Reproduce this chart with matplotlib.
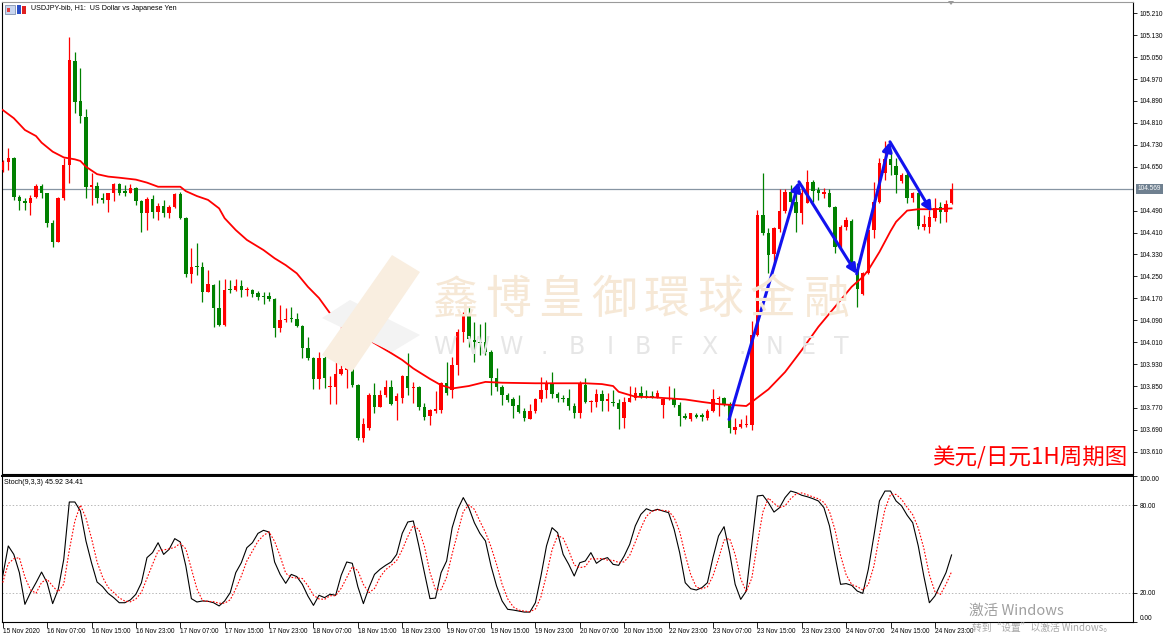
import numpy as np
import matplotlib
matplotlib.use('Agg')
import matplotlib.pyplot as plt
from matplotlib.patches import Polygon, Rectangle
from matplotlib.transforms import blended_transform_factory

plt.rcParams['font.family'] = ['Liberation Sans', 'DejaVu Sans']

# ---------------- data ----------------
opens = [104.638, 104.668, 104.681, 104.538, 104.526, 104.516, 104.538, 104.580, 104.553, 104.443,
         104.376, 104.535, 104.656, 105.036, 104.891, 104.833, 104.577, 104.580, 104.537, 104.529,
         104.553, 104.587, 104.560, 104.555, 104.571, 104.525, 104.480, 104.531, 104.486, 104.507,
         104.482, 104.504, 104.549, 104.462, 104.258, 104.287, 104.283, 104.194, 104.218, 104.136,
         104.072, 104.204, 104.200, 104.215, 104.200, 104.200, 104.188, 104.178, 104.178, 104.166,
         104.060, 104.091, 104.097, 104.093, 104.070, 103.987, 103.951, 103.874, 103.951, 103.845,
         103.847, 103.894, 103.908, 103.954, 103.853, 103.659, 103.695, 103.817, 103.774, 103.817,
         103.845, 103.796, 103.808, 103.886, 103.842, 103.847, 103.772, 103.740, 103.760, 103.762,
         103.862, 103.835, 103.926, 104.048, 104.109, 104.018, 104.012, 104.012, 103.975, 103.881,
         103.845, 103.817, 103.801, 103.780, 103.758, 103.729, 103.760, 103.802, 103.835, 103.859,
         103.821, 103.806, 103.805, 103.777, 103.752, 103.853, 103.791, 103.793, 103.821, 103.795,
         103.793, 103.789, 103.732, 103.793, 103.805, 103.825, 103.813, 103.812, 103.811, 103.780,
         103.801, 103.808, 103.780, 103.740, 103.728, 103.746, 103.744, 103.735, 103.759, 103.801,
         103.805, 103.784, 103.689, 103.699, 103.707, 103.707, 104.036, 104.474, 104.407, 104.332,
         104.422, 104.489, 104.557, 104.523, 104.480, 104.519, 104.596, 104.565, 104.551, 104.553,
         104.504, 104.356, 104.431, 104.453, 104.276, 104.186, 104.261, 104.419, 104.523, 104.626,
         104.677, 104.653, 104.599, 104.620, 104.535, 104.555, 104.431, 104.429, 104.462, 104.502,
         104.486, 104.517]
highs = [104.675, 104.717, 104.687, 104.547, 104.535, 104.547, 104.587, 104.587, 104.555, 104.456,
         104.541, 104.681, 105.125, 105.070, 105.009, 104.859, 104.626, 104.595, 104.553, 104.555,
         104.592, 104.592, 104.583, 104.587, 104.577, 104.529, 104.541, 104.547, 104.516, 104.529,
         104.510, 104.553, 104.559, 104.468, 104.352, 104.370, 104.304, 104.273, 104.222, 104.237,
         104.239, 104.237, 104.239, 104.237, 104.210, 104.205, 104.197, 104.194, 104.194, 104.170,
         104.145, 104.133, 104.139, 104.115, 104.072, 104.030, 103.957, 103.975, 103.959, 103.886,
         103.951, 104.085, 104.000, 103.957, 103.859, 103.735, 103.823, 103.862, 103.835, 103.872,
         103.872, 103.823, 103.890, 103.971, 103.866, 103.850, 103.789, 103.765, 103.833, 103.866,
         103.939, 103.957, 104.057, 104.120, 104.137, 104.085, 104.078, 104.085, 103.981, 103.914,
         103.853, 103.825, 103.811, 103.817, 103.768, 103.786, 103.808, 103.884, 103.872, 103.902,
         103.829, 103.817, 103.838, 103.789, 103.869, 103.878, 103.799, 103.838, 103.835, 103.823,
         103.835, 103.801, 103.811, 103.850, 103.847, 103.850, 103.835, 103.833, 103.835, 103.808,
         103.850, 103.841, 103.793, 103.752, 103.752, 103.752, 103.752, 103.765, 103.838, 103.813,
         103.811, 103.793, 103.732, 103.728, 103.744, 104.088, 104.492, 104.626, 104.425, 104.431,
         104.568, 104.568, 104.583, 104.559, 104.583, 104.638, 104.602, 104.575, 104.571, 104.568,
         104.507, 104.437, 104.465, 104.458, 104.298, 104.267, 104.431, 104.596, 104.681, 104.745,
         104.711, 104.681, 104.628, 104.638, 104.559, 104.559, 104.474, 104.492, 104.535, 104.523,
         104.529, 104.589]
lows = [104.632, 104.638, 104.529, 104.492, 104.492, 104.474, 104.535, 104.535, 104.431, 104.358,
        104.374, 104.529, 104.589, 104.845, 104.808, 104.535, 104.510, 104.516, 104.516, 104.486,
        104.526, 104.547, 104.544, 104.553, 104.510, 104.413, 104.419, 104.462, 104.456, 104.468,
        104.462, 104.498, 104.458, 104.249, 104.227, 104.255, 104.158, 104.192, 104.064, 104.070,
        104.070, 104.188, 104.198, 104.176, 104.178, 104.176, 104.164, 104.151, 104.161, 104.030,
        104.048, 104.085, 104.085, 104.066, 103.951, 103.945, 103.838, 103.838, 103.841, 103.786,
        103.784, 103.890, 103.841, 103.847, 103.653, 103.647, 103.689, 103.750, 103.772, 103.811,
        103.780, 103.726, 103.789, 103.817, 103.789, 103.762, 103.726, 103.707, 103.750, 103.750,
        103.817, 103.805, 103.890, 104.011, 103.993, 103.939, 103.963, 103.963, 103.817, 103.833,
        103.780, 103.793, 103.735, 103.750, 103.723, 103.728, 103.750, 103.793, 103.808, 103.808,
        103.793, 103.793, 103.762, 103.735, 103.735, 103.789, 103.756, 103.774, 103.760, 103.760,
        103.777, 103.692, 103.695, 103.793, 103.799, 103.808, 103.805, 103.805, 103.808, 103.735,
        103.799, 103.774, 103.704, 103.728, 103.723, 103.735, 103.723, 103.726, 103.756, 103.740,
        103.777, 103.679, 103.675, 103.695, 103.701, 103.689, 104.034, 104.401, 104.263, 104.298,
        104.413, 104.482, 104.492, 104.413, 104.441, 104.517, 104.523, 104.529, 104.535, 104.502,
        104.336, 104.352, 104.419, 104.273, 104.139, 104.182, 104.259, 104.389, 104.519, 104.602,
        104.620, 104.555, 104.589, 104.517, 104.523, 104.422, 104.419, 104.407, 104.453, 104.444,
        104.450, 104.514]
closes = [104.668, 104.681, 104.541, 104.526, 104.516, 104.537, 104.580, 104.553, 104.443, 104.376,
          104.535, 104.656, 105.040, 104.887, 104.835, 104.577, 104.582, 104.535, 104.529, 104.553,
          104.587, 104.555, 104.555, 104.571, 104.525, 104.480, 104.531, 104.486, 104.508, 104.482,
          104.504, 104.549, 104.462, 104.258, 104.285, 104.283, 104.194, 104.222, 104.136, 104.072,
          104.200, 104.201, 104.215, 104.200, 104.204, 104.186, 104.176, 104.176, 104.166, 104.060,
          104.091, 104.096, 104.093, 104.070, 103.987, 103.951, 103.874, 103.951, 103.878, 103.847,
          103.894, 103.911, 103.954, 103.853, 103.659, 103.711, 103.817, 103.774, 103.817, 103.845,
          103.784, 103.813, 103.886, 103.841, 103.847, 103.772, 103.738, 103.762, 103.765, 103.862,
          103.823, 103.926, 104.048, 104.109, 104.020, 104.012, 104.007, 103.975, 103.881, 103.845,
          103.817, 103.799, 103.777, 103.756, 103.735, 103.760, 103.802, 103.835, 103.859, 103.821,
          103.805, 103.802, 103.777, 103.752, 103.862, 103.793, 103.795, 103.821, 103.795, 103.801,
          103.789, 103.765, 103.793, 103.805, 103.825, 103.813, 103.811, 103.810, 103.823, 103.801,
          103.808, 103.780, 103.740, 103.735, 103.750, 103.738, 103.738, 103.759, 103.801, 103.805,
          103.784, 103.695, 103.701, 103.710, 103.711, 104.036, 104.474, 104.407, 104.328, 104.425,
          104.489, 104.557, 104.523, 104.483, 104.553, 104.596, 104.563, 104.553, 104.559, 104.504,
          104.356, 104.431, 104.456, 104.276, 104.203, 104.263, 104.419, 104.523, 104.662, 104.677,
          104.656, 104.620, 104.620, 104.535, 104.555, 104.434, 104.440, 104.465, 104.498, 104.486,
          104.514, 104.568]

# moving average (red line), read at these bar indices
ma_idx = [0, 2, 4, 6, 7, 9, 11, 13, 14, 15, 17, 19, 21, 24, 26, 28, 32, 33, 35, 37, 39, 40, 42, 44,
          47, 49, 51, 53, 55, 57, 59, 61, 63, 65, 67, 70, 72, 74, 77, 79, 81, 84, 87, 90, 96, 105, 108,
          110, 111, 114, 117, 120, 123, 126, 129, 132, 134, 135, 138, 141, 144, 147, 150, 153, 155,
          156, 158, 160, 161, 163, 165, 168, 171]
ma_val = [104.857, 104.827, 104.784, 104.762, 104.738, 104.705, 104.684, 104.677, 104.671, 104.650,
          104.623, 104.614, 104.610, 104.603, 104.592, 104.577, 104.577, 104.561, 104.543, 104.529,
          104.498, 104.462, 104.419, 104.383, 104.346, 104.316, 104.291, 104.261, 104.212, 104.171,
          104.115, 104.091, 104.060, 104.030, 104.006, 103.970, 103.945, 103.914, 103.876, 103.853,
          103.841, 103.850, 103.865, 103.862, 103.860, 103.860, 103.857, 103.850, 103.829, 103.811,
          103.809, 103.805, 103.801, 103.792, 103.784, 103.780, 103.777, 103.792, 103.838, 103.901,
          103.981, 104.066, 104.139, 104.212, 104.248, 104.273, 104.339, 104.415, 104.449, 104.490,
          104.495, 104.495, 104.498]

# blue zig-zag arrows (bar index, price)
zz_idx = [130.9, 143.5, 153.9, 159.9, 167.4]
zz_val = [103.728, 104.595, 104.259, 104.741, 104.486]

stoch_k = [31.5, 52.1, 46.3, 33.8, 12.1, 20.1, 26.9, 34.2, 26.9, 12.6,
           22.4, 42.9, 82.2, 82.2, 76.0, 55.5, 40.6, 27.4, 24.2, 19.6,
           16.7, 13.2, 13.2, 15.1, 19.0, 26.9, 44.1, 47.5, 54.3, 46.3,
           49.8, 57.1, 54.8, 38.4, 16.0, 13.7, 14.4, 14.2, 13.2, 11.0,
           14.4, 20.1, 33.8, 40.6, 50.9, 54.3, 60.7, 62.8, 61.6, 41.1,
           32.6, 26.5, 32.6, 31.1, 25.8, 17.8, 11.4, 18.3, 16.7, 19.0,
           18.3, 32.0, 41.1, 40.2, 24.2, 12.6, 23.5, 32.6, 36.1, 38.8,
           41.1, 46.3, 60.7, 68.5, 69.2, 52.1, 33.8, 16.0, 16.4, 33.8,
           41.8, 64.6, 77.2, 85.2, 78.3, 68.0, 60.7, 55.5, 38.4, 24.7,
           14.4, 8.7, 8.2, 7.5, 6.8, 6.8, 13.2, 31.5, 52.1, 64.6,
           61.2, 46.3, 39.5, 31.5, 40.6, 41.8, 47.5, 40.2, 42.9, 44.1,
           39.5, 38.8, 45.2, 53.2, 65.8, 73.7, 77.6, 76.0, 77.2, 76.0,
           74.9, 63.5, 47.5, 26.9, 22.8, 21.9, 23.5, 26.9, 44.1, 58.9,
           65.3, 47.5, 25.8, 15.5, 21.2, 53.2, 86.3, 86.8, 81.7, 75.3,
           78.3, 85.2, 89.7, 88.6, 86.8, 85.8, 84.5, 82.9, 78.3, 65.8,
           45.2, 25.8, 26.3, 25.1, 21.2, 19.6, 36.1, 58.9, 82.9, 89.7,
           89.7, 82.9, 79.5, 73.1, 68.0, 52.1, 31.5, 13.2, 17.8, 25.8,
           33.8, 45.92]
stoch_d = [27.0, 40.0, 43.3, 44.1, 30.7, 22.0, 19.7, 27.1, 29.3, 24.6,
           20.6, 26.0, 49.2, 69.1, 80.1, 71.2, 57.4, 41.2, 30.7, 23.7,
           20.2, 16.5, 14.4, 13.8, 15.8, 20.3, 30.0, 39.5, 48.6, 49.4,
           50.1, 51.1, 53.9, 50.1, 36.4, 22.7, 14.7, 14.1, 13.9, 12.8,
           12.9, 15.2, 22.8, 31.5, 41.8, 48.6, 55.3, 59.3, 61.7, 55.2,
           45.1, 33.4, 30.6, 30.1, 29.8, 24.9, 18.3, 15.8, 15.5, 18.0,
           18.0, 23.1, 30.5, 37.8, 35.2, 25.7, 20.1, 22.9, 30.7, 35.8,
           38.7, 42.1, 49.4, 58.5, 66.1, 63.3, 51.7, 34.0, 22.1, 22.1,
           30.7, 46.7, 61.2, 75.7, 80.2, 77.2, 69.0, 61.4, 51.5, 39.5,
           25.8, 15.9, 10.4, 8.1, 7.5, 7.0, 8.9, 17.2, 32.3, 49.4,
           59.3, 57.4, 49.0, 39.1, 37.2, 38.0, 43.3, 43.2, 43.5, 42.4,
           42.2, 40.8, 41.2, 45.7, 54.7, 64.2, 72.4, 75.8, 76.9, 76.4,
           76.0, 71.5, 62.0, 46.0, 32.4, 23.9, 22.7, 24.1, 31.5, 43.3,
           56.1, 57.2, 46.2, 29.6, 20.8, 30.0, 53.6, 75.4, 84.9, 81.3,
           78.4, 79.6, 84.4, 87.8, 88.4, 87.1, 85.7, 84.4, 81.9, 75.7,
           63.1, 45.6, 32.4, 25.7, 24.2, 22.0, 25.6, 38.2, 59.3, 77.2,
           87.4, 87.4, 84.0, 78.5, 73.5, 64.4, 50.5, 32.3, 20.8, 18.9,
           25.8, 34.41]

price_ticks = [103.610, 103.690, 103.770, 103.850, 103.930, 104.010, 104.090, 104.170, 104.250,
               104.330, 104.410, 104.490, 104.650, 104.730, 104.810, 104.890, 104.970, 105.050,
               105.130, 105.210]
last_price = 104.569
time_labels = ['15 Nov 2020', '16 Nov 07:00', '16 Nov 15:00', '16 Nov 23:00', '17 Nov 07:00',
               '17 Nov 15:00', '17 Nov 23:00', '18 Nov 07:00', '18 Nov 15:00', '18 Nov 23:00',
               '19 Nov 07:00', '19 Nov 15:00', '19 Nov 23:00', '20 Nov 07:00', '20 Nov 15:00',
               '22 Nov 23:00', '23 Nov 07:00', '23 Nov 15:00', '23 Nov 23:00', '24 Nov 07:00',
               '24 Nov 15:00', '24 Nov 23:00']
stoch_levels = [20, 80]

# ---------------- figure ----------------
W, H = 1170, 634
fig = plt.figure(figsize=(W / 100, H / 100), dpi=100)
fig.patch.set_facecolor('white')


def fx(px):
    return px / W


def fy(py):
    return 1 - py / H


L, R = 2, 1133
m_top, m_bot = 2, 474
s_top, s_bot = 476, 622
ax = fig.add_axes([fx(L), fy(m_bot), (R - L) / W, (m_bot - m_top) / H])
ax2 = fig.add_axes([fx(L), fy(s_bot), (R - L) / W, (s_bot - s_top) / H], sharex=ax)

RED = '#ff0000'
GREEN = '#008000'
TICKFS = 4.7

o = np.array(opens); h = np.array(highs); l = np.array(lows); c = np.array(closes)
xi = np.arange(len(c))
cols = np.where(c >= o, RED, GREEN)

# watermark (behind everything)
wm_chars = '鑫博皇御環球金融'
for k, ch in enumerate(wm_chars):
    fig.text(fx(455 + 53 * k), fy(300), ch, fontsize=33, color='#f6e8d6',
             family=['Noto Sans CJK TC', 'Noto Sans CJK SC'], ha='center', va='center', zorder=0)
for k, ch in enumerate('WWW.BIBFX.NET'):
    fig.text(fx(445 + 33 * k), fy(347), ch, fontsize=17, color='#e6e6e6',
             family=['DejaVu Sans'], ha='center', va='center', zorder=0)
logo_beige = Polygon([[fx(392), fy(255)], [fx(420), fy(272)], [fx(352), fy(372)], [fx(322), fy(355)]],
                     closed=True, transform=fig.transFigure, facecolor='#f9eee0', edgecolor='none', zorder=0)
logo_gray = Polygon([[fx(322), fy(318)], [fx(350), fy(300)], [fx(420), fy(335)], [fx(392), fy(352)]],
                    closed=True, transform=fig.transFigure, facecolor='#f3f3f3', edgecolor='none', zorder=0)
fig.patches.extend([logo_gray, logo_beige])

for a in (ax, ax2):
    a.set_facecolor('none')

# candles
ax.vlines(xi, l, h, colors=cols, linewidth=0.9, zorder=3)
body_bot = np.minimum(o, c)
body_h = np.maximum(np.abs(c - o), 0.0035)
ax.bar(xi, body_h, bottom=body_bot, width=0.62, color=cols, linewidth=0, zorder=4)

# moving average
ax.plot(ma_idx, ma_val, color=RED, lw=1.3, zorder=5)

# current price line
ax.axhline(last_price, color='#8795a3', lw=0.9, zorder=2)
trans = blended_transform_factory(ax.transAxes, ax.transData)
ax.text(1.004, last_price, f'{last_price:.3f}', transform=trans, fontsize=TICKFS, color='white',
        va='center', ha='left', clip_on=False,
        bbox=dict(boxstyle='square,pad=0.25', facecolor='#6f8090', edgecolor='none'))

# zig-zag arrows
for k in range(len(zz_idx) - 1):
    ax.annotate('', xy=(zz_idx[k + 1], zz_val[k + 1]), xytext=(zz_idx[k], zz_val[k]),
                arrowprops=dict(arrowstyle='-|>,head_length=0.55,head_width=0.28', color='#1212ee',
                                lw=2.2, shrinkA=0, shrinkB=0), zorder=6)

ax.set_xlim(-0.13, 203.7)
ax.set_ylim(103.529, 105.251)
ax.yaxis.tick_right()
ax.set_yticks(price_ticks)
ax.set_yticklabels([f'{t:.3f}' for t in price_ticks])
ax.tick_params(axis='y', length=3, width=0.6, pad=1.5, labelsize=TICKFS, direction='out')
ax.tick_params(axis='x', bottom=False, labelbottom=False)
for s in ax.spines.values():
    s.set_linewidth(0.8)
    s.set_color('#000000')
ax.spines['top'].set_color('#9a9a9a')

# header
fig.text(fx(31), fy(9), 'USDJPY-bib, H1:  US Dollar vs Japanese Yen', fontsize=5.1, va='center', ha='left')
fig.patches.append(Rectangle((fx(5), fy(14)), 10 / W, 9 / H, transform=fig.transFigure,
                             facecolor='#c9d6ef', edgecolor='#7080a0', lw=0.5))
fig.patches.append(Rectangle((fx(7), fy(12)), 3 / W, 4 / H, transform=fig.transFigure,
                             facecolor='#e04040', edgecolor='none'))
fig.patches.append(Rectangle((fx(17), fy(14)), 4 / W, 9 / H, transform=fig.transFigure,
                             facecolor='#2a50c8', edgecolor='none'))
fig.patches.append(Rectangle((fx(22), fy(14)), 4 / W, 8 / H, transform=fig.transFigure,
                             facecolor='#e02020', edgecolor='none'))
# chart shift marker
fig.patches.append(Polygon([[fx(948), fy(1)], [fx(954), fy(1)], [fx(951), fy(5)]], closed=True,
                           transform=fig.transFigure, facecolor='#9a9a9a', edgecolor='none'))

# red label
fig.text(fx(932), fy(458), '美元/日元1H周期图', color='#ff0000', fontsize=16.2,
         family=['Noto Sans CJK SC', 'DejaVu Sans'], va='center', ha='left')

# ---------------- stochastic ----------------
ax2.plot(xi, stoch_k, color='#000000', lw=0.8, zorder=3)
ax2.plot(xi, stoch_d, color='#ff0000', lw=0.8, ls=(0, (1.5, 1.5)), zorder=3)
for lv in stoch_levels:
    ax2.axhline(lv, color='#b8b8b8', lw=0.7, ls=(0, (1.5, 2)), zorder=1)
ax2.set_ylim(0, 100)
ax2.yaxis.tick_right()
ax2.set_yticks([0, 20, 80, 100])
ax2.set_yticklabels(['0.00', '20.00', '80.00', '100.00'])
ax2.tick_params(axis='y', length=3, width=0.6, pad=1.5, labelsize=TICKFS, direction='out')
ylabs = ax2.get_yticklabels()
ylabs[0].set_va('bottom')
ylabs[-1].set_va('top')
ax2.set_xticks(np.arange(0, 8 * len(time_labels), 8))
ax2.set_xticklabels(time_labels)
ax2.tick_params(axis='x', length=4, width=0.6, pad=0.5, labelsize=TICKFS, direction='out')
for t in ax2.get_xticklabels():
    t.set_ha('left')
for s in ax2.spines.values():
    s.set_linewidth(0.8)
    s.set_color('#000000')
ax2.spines['top'].set_linewidth(1.4)
fig.text(fx(4), fy(482), 'Stoch(9,3,3) 45.92 34.41', fontsize=5.1, va='center', ha='left')

# windows activation overlay
fig.text(fx(969), fy(611), '激活 Windows', color='#a0a0a0', fontsize=10.5,
         family=['Noto Sans CJK SC', 'DejaVu Sans'], va='center', ha='left')
fig.text(fx(972), fy(629), '转到“设置”以激活 Windows。', color='#a8a8a8', fontsize=7.0,
         family=['Noto Sans CJK SC', 'DejaVu Sans'], va='center', ha='left')

fig.savefig('out.png', dpi=100)
